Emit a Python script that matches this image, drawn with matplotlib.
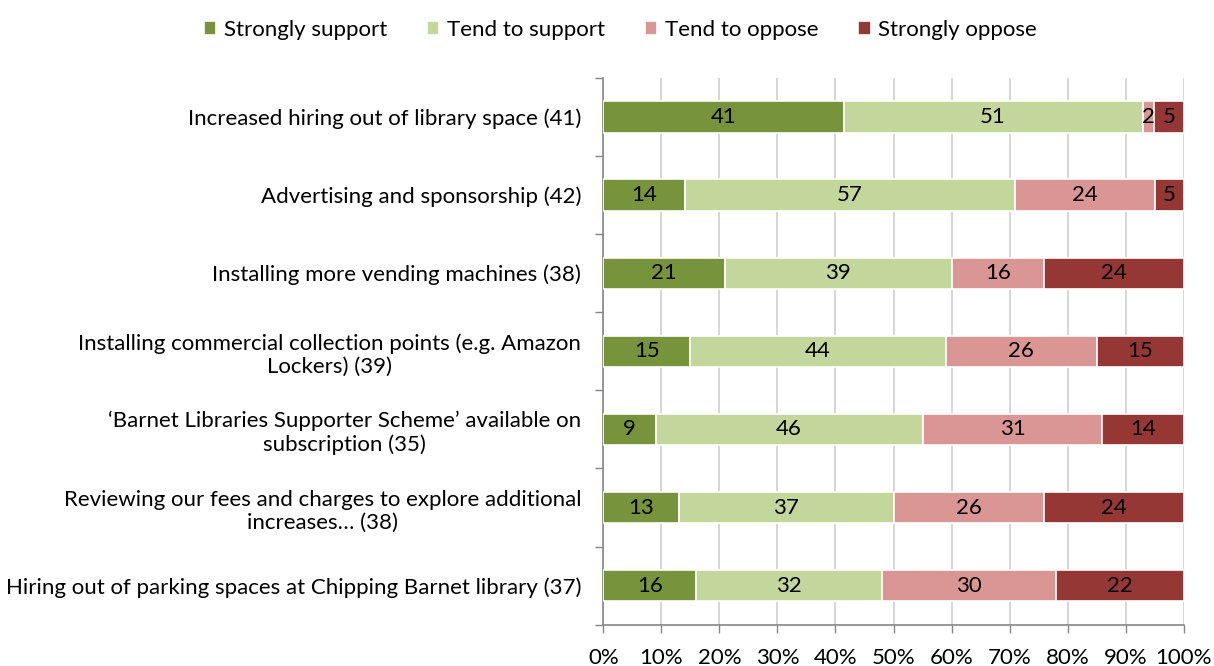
import numpy as np
import matplotlib.pyplot as plt

plt.rcParams['font.family'] = ['Lato', 'DejaVu Sans']

categories = [
    "Increased hiring out of library space (41)",
    "Advertising and sponsorship (42)",
    "Installing more vending machines (38)",
    "Installing commercial collection points (e.g. Amazon\nLockers) (39)",
    "\u2018Barnet Libraries Supporter Scheme\u2019 available on\nsubscription (35)",
    "Reviewing our fees and charges to explore additional\nincreases\u2026 (38)",
    "Hiring out of parking spaces at Chipping Barnet library (37)",
]
series = ["Strongly support", "Tend to support", "Tend to oppose", "Strongly oppose"]
strongly_support = [41, 14, 21, 15, 9, 13, 16]
tend_support = [51, 57, 39, 44, 46, 37, 32]
tend_oppose = [2, 24, 16, 26, 31, 26, 30]
strongly_oppose = [5, 5, 24, 15, 14, 24, 22]
colors = ["#77933C", "#C3D69B", "#D99694", "#953735"]

values = np.array([strongly_support, tend_support, tend_oppose, strongly_oppose], dtype=float)
# 100% stacked: each row scaled to its own total
shares = values / values.sum(axis=0) * 100

fs = 16

fig, ax = plt.subplots(figsize=(12.14, 6.66), dpi=100)
fig.subplots_adjust(left=0.497, right=0.975, top=0.883, bottom=0.062)

y = np.arange(len(categories))
left = np.zeros(len(categories))
for i, name in enumerate(series):
    bars = ax.barh(y, shares[i], left=left, height=0.4, color=colors[i],
                   edgecolor="white", linewidth=1.2, label=name, zorder=3)
    for j, b in enumerate(bars):
        ax.text(b.get_x() + b.get_width() / 2, b.get_y() + b.get_height() / 2,
                f"{int(values[i, j])}", ha="center", va="center",
                fontsize=fs, color="black", zorder=4)
    left += shares[i]

ax.set_xlim(0, 100)
ax.set_ylim(len(categories) - 0.5, -0.5)
ax.set_xticks(np.arange(0, 101, 10))
ax.set_xticklabels([f"{t}%" for t in range(0, 101, 10)], fontsize=fs)
ax.set_yticks(y)
ax.set_yticklabels(categories, fontsize=fs, linespacing=1.2)
ax.yaxis.set_tick_params(length=0, pad=16)
for lbl in ax.get_yticklabels():
    lbl.set_multialignment("center")

# category separators on the y axis
ax.set_yticks(np.arange(-0.5, len(categories), 1), minor=True)
ax.tick_params(axis="y", which="minor", length=6, color="#868686", width=1)
ax.tick_params(axis="x", length=6, color="#868686", width=1, pad=11)

ax.grid(axis="x", color="#D0D0D0", linewidth=1.2, zorder=0)
for side in ["top", "right"]:
    ax.spines[side].set_visible(False)
for side in ["left", "bottom"]:
    ax.spines[side].set_color("#868686")
    ax.spines[side].set_linewidth(1.2)

fig.legend(loc="upper center", bbox_to_anchor=(0.511, 1.0), ncol=4, frameon=False,
           fontsize=fs, handlelength=0.55, handleheight=0.55, handletextpad=0.35,
           columnspacing=1.8)

fig.savefig("out.png", dpi=100)
